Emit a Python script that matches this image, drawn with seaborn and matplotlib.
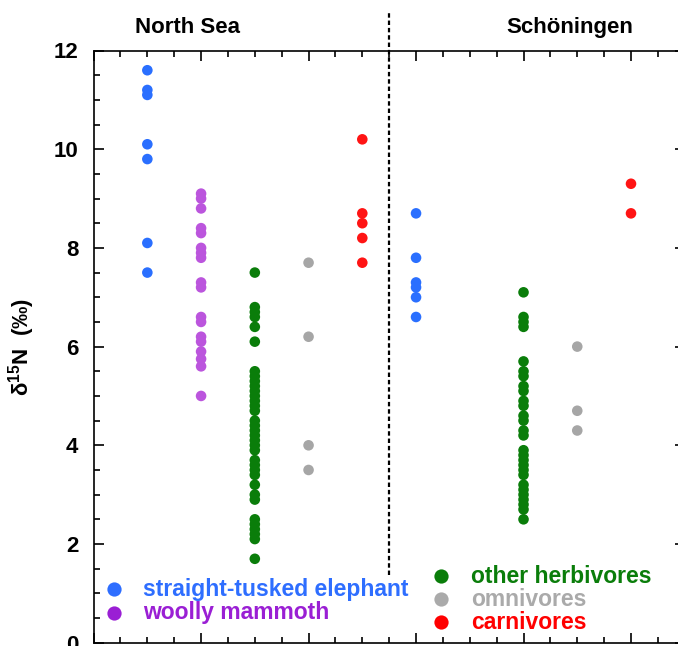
import numpy as np
import pandas as pd
import matplotlib
matplotlib.use("Agg")
import matplotlib.pyplot as plt
import seaborn as sns
from matplotlib.ticker import MultipleLocator

# ---------------- data ----------------
sites = ["North Sea", "Schöningen"]
groups = ["straight-tusked elephant", "woolly mammoth", "other herbivores",
          "omnivores", "carnivores"]

ns_elephant = [11.6, 11.2, 11.1, 10.1, 9.8, 8.1, 7.5]
ns_mammoth = [9.1, 9.0, 8.8, 8.4, 8.3, 8.0, 7.9, 7.8, 7.3, 7.2, 6.6, 6.5,
              6.2, 6.1, 5.9, 5.75, 5.6, 5.0]
ns_herb = [7.5, 6.8, 6.7, 6.6, 6.4, 6.1, 5.5, 5.4, 5.3, 5.2, 5.1, 5.0, 4.9,
           4.8, 4.7, 4.5, 4.4, 4.3, 4.2, 4.1, 4.0, 3.9, 3.7, 3.6, 3.5, 3.4,
           3.2, 3.0, 2.9, 2.5, 2.4, 2.3, 2.2, 2.1, 1.7]
ns_omni = [7.7, 6.2, 4.0, 3.5]
ns_carn = [10.2, 8.7, 8.5, 8.2, 7.7]

sch_elephant = [8.7, 7.8, 7.3, 7.2, 7.0, 6.6]
sch_mammoth = []
sch_herb = [7.1, 6.6, 6.5, 6.4, 5.7, 5.5, 5.4, 5.2, 5.1, 4.9, 4.8, 4.6, 4.5,
            4.3, 4.2, 3.9, 3.8, 3.7, 3.6, 3.5, 3.4, 3.2, 3.1, 3.0, 2.9, 2.8,
            2.7, 2.5]
sch_omni = [6.0, 4.7, 4.3]
sch_carn = [9.3, 8.7]

series = {
    ("North Sea", "straight-tusked elephant"): ns_elephant,
    ("North Sea", "woolly mammoth"): ns_mammoth,
    ("North Sea", "other herbivores"): ns_herb,
    ("North Sea", "omnivores"): ns_omni,
    ("North Sea", "carnivores"): ns_carn,
    ("Schöningen", "straight-tusked elephant"): sch_elephant,
    ("Schöningen", "woolly mammoth"): sch_mammoth,
    ("Schöningen", "other herbivores"): sch_herb,
    ("Schöningen", "omnivores"): sch_omni,
    ("Schöningen", "carnivores"): sch_carn,
}

point_colors = {
    "straight-tusked elephant": "#2A6FFF",
    "woolly mammoth": "#BB55DD",
    "other herbivores": "#0A7D0A",
    "omnivores": "#A6A6A6",
    "carnivores": "#FF1414",
}
legend_colors = {
    "straight-tusked elephant": "#2E6EFF",
    "woolly mammoth": "#9A1FD4",
    "other herbivores": "#0A7D0A",
    "omnivores": "#AAAAAA",
    "carnivores": "#FF0000",
}

rows = []
for (site, grp), vals in series.items():
    pos = sites.index(site) * (len(groups)) + groups.index(grp) + 1
    for v in vals:
        rows.append({"site": site, "group": grp, "pos": pos, "d15N": v})
df = pd.DataFrame(rows)

# ---------------- style ----------------
sns.set_style("ticks")
plt.rcParams["font.family"] = ["Liberation Sans", "DejaVu Sans"]
plt.rcParams["font.weight"] = "bold"
plt.rcParams["text.color"] = "black"
plt.rcParams["axes.labelcolor"] = "black"
plt.rcParams["mathtext.fontset"] = "custom"
plt.rcParams["mathtext.rm"] = "Liberation Sans"
plt.rcParams["mathtext.it"] = "Liberation Sans"
plt.rcParams["mathtext.default"] = "rm"

fig = plt.figure(figsize=(6.78, 6.46), dpi=100)
W, H = 678, 646
x0_px, xunit = 93.6, 53.74
y0_px, yunit = 642.7, 49.35
ax = fig.add_axes([x0_px / W, (H - y0_px) / H, 11 * xunit / W, 12 * yunit / H])

sns.scatterplot(data=df, x="pos", y="d15N", hue="group", palette=point_colors,
                s=58, linewidth=0, legend=False, ax=ax, zorder=3)

ax.set_xlim(0, 11)
ax.set_ylim(0, 12)

for sp in ax.spines.values():
    sp.set_linewidth(1.2)
    sp.set_color("black")

ax.xaxis.set_major_locator(MultipleLocator(2))
ax.xaxis.set_minor_locator(MultipleLocator(0.5))
ax.yaxis.set_major_locator(MultipleLocator(2))
ax.yaxis.set_minor_locator(MultipleLocator(0.5))
ax.tick_params(which="both", direction="in", top=True, right=True,
               bottom=True, left=True, color="black", width=1.2,
               labelcolor="black")
ax.tick_params(which="major", length=7.5)
ax.tick_params(which="minor", length=4)
ax.tick_params(axis="x", labelbottom=False)
ax.tick_params(axis="y", labelsize=16, pad=11)
for lab in ax.get_yticklabels():
    lab.set_fontweight("bold")

ax.set_xlabel("")
ax.set_ylabel(r"$\delta^{15}$N  (‰)", fontsize=16, fontweight="bold",
              color="black")
ax.yaxis.set_label_coords((37 - x0_px) / (11 * xunit), 0.5)

# separator between sites
ax.plot([5.5, 5.5], [1.38, 12.8], color="black", lw=1.6,
        linestyle=(0, (2.0, 1.3)), clip_on=False, zorder=2)

# site titles
ax.text(1.74, 12.35, sites[0], ha="center", va="baseline", fontsize=16,
        fontweight="bold", clip_on=False)
ax.text(8.87, 12.35, sites[1], ha="center", va="baseline", fontsize=16,
        fontweight="bold", clip_on=False)

# legend (two columns of entries)
leg_left = [("straight-tusked elephant", 1.08), ("woolly mammoth", 0.61)]
leg_right = [("other herbivores", 1.35), ("omnivores", 0.88), ("carnivores", 0.41)]
for entries, mx, tx in [(leg_left, 0.387, 0.92), (leg_right, 6.46, 7.02)]:
    for grp, yy in entries:
        ax.scatter([mx], [yy], s=105, color=legend_colors[grp], linewidth=0,
                   zorder=4, clip_on=False)
        ax.text(tx, yy, grp, color=legend_colors[grp], fontsize=16.5,
                fontweight="bold", ha="left", va="center")

fig.savefig("out.png", dpi=100)
